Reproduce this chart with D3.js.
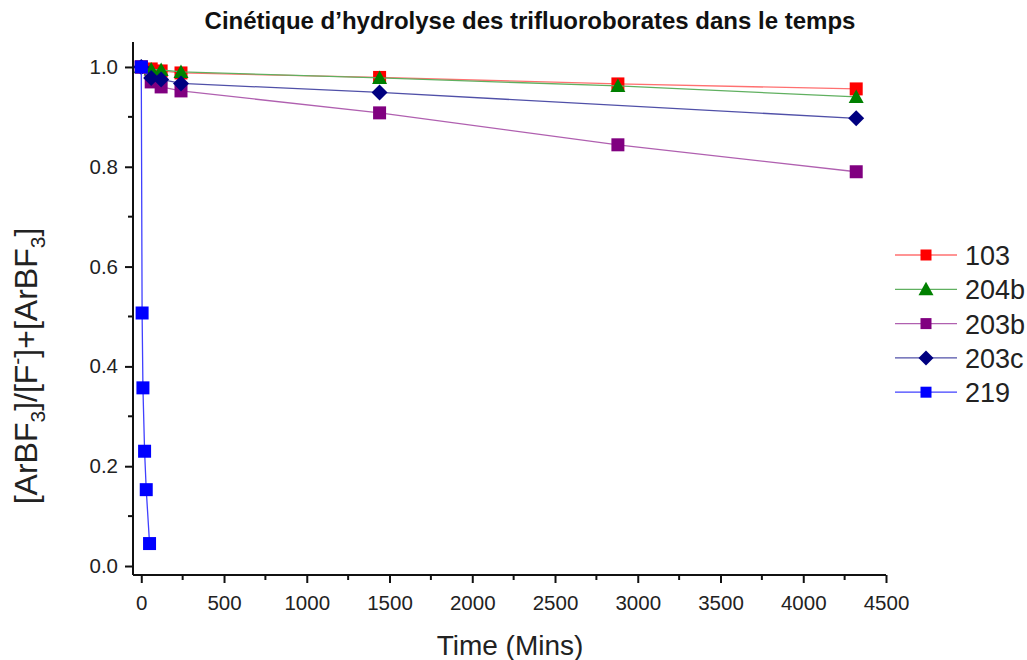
<!DOCTYPE html>
<html>
<head>
<meta charset="utf-8">
<script src="https://cdn.jsdelivr.net/npm/d3@7"></script>
<style>
  html, body { margin: 0; padding: 0; background: #fff; }
  svg { display: block; font-family: "Liberation Sans", Arial, sans-serif; }
</style>
</head>
<body>
<svg id="chart" width="1027" height="660"></svg>
<script>
// Hydrolysis kinetics: fraction of remaining trifluoroborate vs. time (minutes)
const seriesNames = ["103", "204b", "203b", "203c", "219"];
const seriesColors = ["#ff0000", "#008000", "#800080", "#000080", "#0000ff"];
const seriesLineColors = ["#ff7070", "#60b060", "#b060b0", "#5050a8", "#4040ff"];
const seriesSymbols = ["square", "triangle", "square", "diamond", "square"];

const times = [0, 60, 120, 240, 1440, 2880, 4320];
const times203c = [0, 60, 120, 240, 1440, 4320];
const times219 = [0, 5, 10, 20, 30, 50];

const values103 = [1.0, 0.996, 0.992, 0.988, 0.979, 0.966, 0.956];
const values204b = [1.0, 0.995, 0.994, 0.990, 0.978, 0.962, 0.940];
const values203b = [1.0, 0.970, 0.960, 0.952, 0.908, 0.844, 0.790];
const values203c = [1.0, 0.978, 0.975, 0.967, 0.949, 0.897];
const values219 = [1.0, 0.507, 0.357, 0.230, 0.153, 0.045];

const xTicks = [0, 500, 1000, 1500, 2000, 2500, 3000, 3500, 4000, 4500];
const yTicks = [0.0, 0.2, 0.4, 0.6, 0.8, 1.0];

const seriesData = [
  d3.zip(times, values103),
  d3.zip(times, values204b),
  d3.zip(times, values203b),
  d3.zip(times203c, values203c),
  d3.zip(times219, values219)
];

const svg = d3.select("#chart");

const x = d3.scaleLinear().domain([-50, 4500]).range([133, 886]);
const y = d3.scaleLinear().domain([-0.018, 1.05]).range([575, 42]);

// marker shapes, sized in pixels
function markerPath(type, s) {
  const h = s / 2;
  if (type === "square") {
    return `M${-h},${-h}H${h}V${h}H${-h}Z`;
  }
  if (type === "triangle") {
    return `M0,${-h}L${h},${h * 0.8}L${-h},${h * 0.8}Z`;
  }
  if (type === "diamond") {
    return `M0,${-h}L${h},0L0,${h}L${-h},0Z`;
  }
  return "";
}
const markerSize = { square: 13, triangle: 15, diamond: 16 };

// title
svg.append("text")
  .attr("x", 530).attr("y", 29)
  .attr("text-anchor", "middle")
  .attr("font-size", 24)
  .attr("font-weight", "bold")
  .attr("fill", "#111")
  .text("Cinétique d’hydrolyse des trifluoroborates dans le temps");

// axes
const xAxis = d3.axisBottom(x).tickValues(xTicks).tickSize(8).tickPadding(12).tickFormat(d3.format("d"));
const yAxis = d3.axisLeft(y).tickValues(yTicks).tickSize(8).tickPadding(7).tickFormat(d3.format(".1f"));

const gx = svg.append("g").attr("transform", "translate(0,575)");
gx.call(xAxis);
// minor x ticks
gx.selectAll(".minor").data(d3.range(250, 4500, 500)).join("line")
  .attr("x1", d => x(d)).attr("x2", d => x(d))
  .attr("y1", 0).attr("y2", 5)
  .attr("stroke", "#111").attr("stroke-width", 2);

const gy = svg.append("g").attr("transform", "translate(133,0)");
gy.call(yAxis);
gy.selectAll(".minor").data([0.1, 0.3, 0.5, 0.7, 0.9]).join("line")
  .attr("x1", 0).attr("x2", -5)
  .attr("y1", d => y(d)).attr("y2", d => y(d))
  .attr("stroke", "#111").attr("stroke-width", 2);

[gx, gy].forEach(g => {
  g.select(".domain").attr("stroke", "#111").attr("stroke-width", 2)
    .attr("d", g === gx ? `M${x(-50)},0H${x(4500)}` : `M0,${y(1.05)}V${y(-0.018)}`);
  g.selectAll(".tick line").attr("stroke", "#111").attr("stroke-width", 2);
  g.selectAll(".tick text").attr("font-size", 20.5).attr("fill", "#222")
    .attr("font-family", "'Liberation Sans', Arial, sans-serif");
});

// axis titles
svg.append("text")
  .attr("x", 510).attr("y", 655)
  .attr("text-anchor", "middle")
  .attr("font-size", 28).attr("fill", "#222")
  .text("Time (Mins)");

const yTitle = svg.append("text")
  .attr("transform", "translate(37,366) rotate(-90)")
  .attr("text-anchor", "middle")
  .attr("font-size", 32).attr("fill", "#222");
yTitle.append("tspan").text("[ArBF");
yTitle.append("tspan").attr("font-size", 21).attr("dy", 8).text("3");
yTitle.append("tspan").attr("dy", -8).text("]/[F");
yTitle.append("tspan").attr("font-size", 21).attr("dy", -13).text("-");
yTitle.append("tspan").attr("dy", 13).text("]+[ArBF");
yTitle.append("tspan").attr("font-size", 21).attr("dy", 8).text("3");
yTitle.append("tspan").attr("dy", -8).text("]");

// series lines and markers
const line = d3.line().x(d => x(d[0])).y(d => y(d[1]));
const plot = svg.append("g");
seriesData.forEach((data, i) => {
  const g = plot.append("g");
  g.append("path")
    .attr("d", line(data))
    .attr("fill", "none")
    .attr("stroke", seriesLineColors[i])
    .attr("stroke-width", 1.3);
  const sym = seriesSymbols[i];
  g.selectAll("path.mk").data(data).join("path")
    .attr("class", "mk")
    .attr("transform", d => `translate(${x(d[0])},${y(d[1])})`)
    .attr("d", markerPath(sym, markerSize[sym]))
    .attr("fill", seriesColors[i]);
});

// legend
const legend = svg.append("g");
seriesNames.forEach((name, i) => {
  const ly = 255 + i * 34.3;
  const sym = seriesSymbols[i];
  legend.append("line")
    .attr("x1", 895).attr("x2", 957)
    .attr("y1", ly).attr("y2", ly)
    .attr("stroke", seriesLineColors[i]).attr("stroke-width", 1.3);
  legend.append("path")
    .attr("transform", `translate(926,${ly})`)
    .attr("d", markerPath(sym, sym === "square" ? 11 : 15))
    .attr("fill", seriesColors[i]);
  legend.append("text")
    .attr("x", 965).attr("y", ly + 10)
    .attr("font-size", 27).attr("fill", "#222")
    .text(name);
});
</script>
</body>
</html>
